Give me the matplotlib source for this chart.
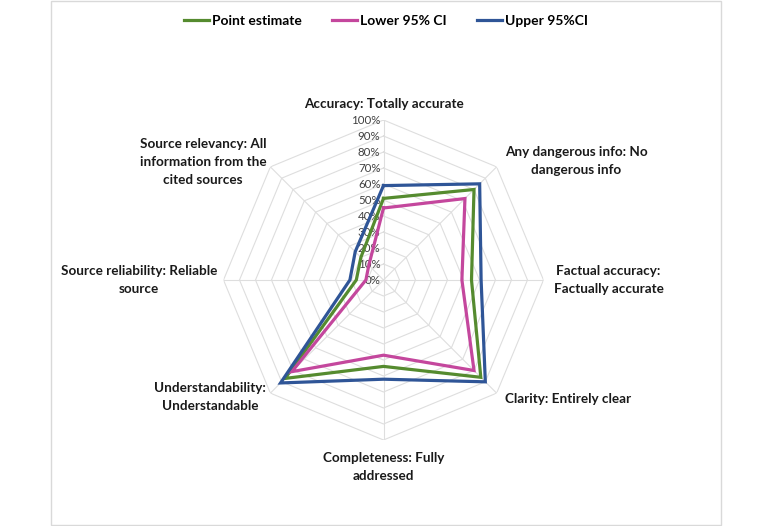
import numpy as np
import matplotlib
matplotlib.use("Agg")
import matplotlib.pyplot as plt
from matplotlib.transforms import offset_copy
from matplotlib.lines import Line2D
from matplotlib.patches import Rectangle

categories = ['Accuracy: Totally accurate',
              'Any dangerous info: No\ndangerous info',
              'Factual accuracy:\nFactually accurate',
              'Clarity: Entirely clear',
              'Completeness: Fully\naddressed',
              'Understandability:\nUnderstandable',
              'Source reliability: Reliable\nsource',
              'Source relevancy: All\ninformation from the\ncited sources']
point_estimate = [51, 80, 55, 86, 54, 87, 17, 20]
lower_ci = [45, 72, 49, 80, 47, 81, 11, 13]
upper_ci = [59, 85, 61, 90, 62, 91, 21, 25]
series_names = ['Point estimate', 'Lower 95% CI', 'Upper 95%CI']
ring_values = [0, 10, 20, 30, 40, 50, 60, 70, 80, 90, 100]
ring_labels = [f'{v}%' for v in ring_values]

colors = ['#558B2F', '#C4479D', '#2F5597']
grid_color = '#DEDEDE'
font = ['Lato', 'DejaVu Sans']
plt.rcParams['font.family'] = font

W, H = 767, 526
fig = plt.figure(figsize=(W / 100, H / 100), dpi=100)

# outer frame
fig.patches.append(Rectangle((51 / W, 1 - 525 / H), 670 / W, 524 / H,
                             transform=fig.transFigure, fill=False,
                             edgecolor='#D9D9D9', linewidth=1))

cx, cy, R = 383.5, 280, 160
ax = fig.add_axes([(cx - R) / W, 1 - (cy + R) / H, 2 * R / W, 2 * R / H],
                  projection='polar')
ax.set_theta_offset(np.pi / 2)
ax.set_theta_direction(-1)
ax.set_ylim(0, 100)
ax.grid(False)
ax.spines['polar'].set_visible(False)
ax.set_xticks([])
ax.set_yticks([])
ax.patch.set_alpha(0)

n = len(categories)
angles = np.linspace(0, 2 * np.pi, n, endpoint=False)
closed = np.concatenate([angles, angles[:1]])

for v in ring_values[1:]:
    ax.plot(closed, [v] * (n + 1), color=grid_color, lw=0.8, zorder=1)
for a in angles:
    ax.plot([a, a], [0, 100], color=grid_color, lw=0.8, zorder=1)

for vals, c in zip([point_estimate, lower_ci, upper_ci], colors):
    ax.plot(closed, list(vals) + [vals[0]], color=c, lw=2.3, zorder=3,
            solid_joinstyle='miter')

# radial tick labels
tl = offset_copy(ax.transData, fig=fig, x=-3, y=0, units='dots')
for v, lab in zip(ring_values, ring_labels):
    ax.text(0, v, lab, transform=tl, ha='right', va='center',
            fontsize=8.3, color='#404040', zorder=2)

# category labels: (dx, dy in pixels, ha, va)
label_pos = [(0, 16, 'center', 'center'),
             (8, 6, 'left', 'center'),
             (10, 0, 'left', 'center'),
             (8, -6, 'left', 'center'),
             (0, -27, 'center', 'center'),
             (-4, -4, 'right', 'center'),
             (-6, 0, 'right', 'center'),
             (-4, 5, 'right', 'center')]
for a, lab, (dx, dy, ha, va) in zip(angles, categories, label_pos):
    tr = offset_copy(ax.transData, fig=fig, x=dx, y=dy, units='dots')
    ax.text(a, 100, lab, transform=tr, ha=ha, va=va, multialignment='center',
            fontsize=9.7, fontweight='bold', color='#1a1a1a',
            linespacing=1.6)

handles = [Line2D([], [], color=c, lw=2.3) for c in colors]
fig.legend(handles, series_names, loc='center', bbox_to_anchor=(0.503, 0.96),
           ncol=3, frameon=False, handlelength=1.8, handletextpad=0.2,
           columnspacing=2.2, prop={'family': font, 'weight': 'bold', 'size': 10})

fig.savefig('out.png', dpi=100)
